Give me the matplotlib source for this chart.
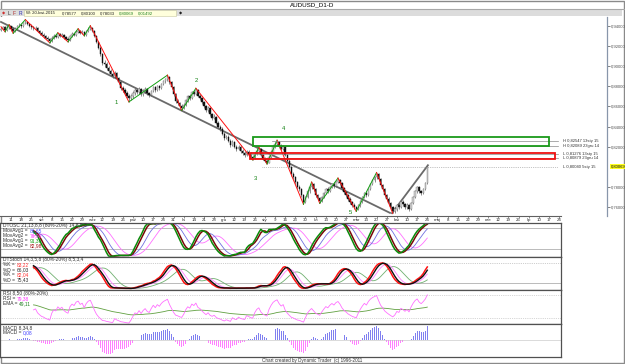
import numpy as np
import pandas as pd
import matplotlib
matplotlib.use("Agg")
import matplotlib.pyplot as plt
from matplotlib.patches import Rectangle

plt.rcParams["font.family"] = ["Liberation Sans", "DejaVu Sans"]

W, H = 625, 364

# dzienne swiece AUDUSD, w pipsach (0,9370 -> 9370), od 4 lip 2014 do 24 kwi 2015
first_open = 9360
close = [
    9370, 9385, 9360, 9390, 9395, 9365, 9345, 9370, 9395, 9410, 9400, 9425, 9440,
    9420, 9400, 9390, 9375, 9380, 9350, 9330, 9310, 9300, 9280, 9265, 9250,
    9280, 9300, 9290, 9315, 9300, 9310, 9285, 9270, 9260,
    9300, 9320, 9310, 9340, 9350, 9330, 9340, 9310, 9345, 9370, 9380,
    9350, 9300, 9240, 9180, 9120, 9030, 9020, 8980, 8950, 8920, 8900, 8930, 8880, 8840, 8780, 8760, 8730, 8700, 8680,
    8700, 8730, 8760, 8740, 8770, 8720, 8750,
    8770, 8730, 8710, 8750, 8790, 8760, 8800, 8780, 8820, 8850, 8870, 8890,
    8840, 8790, 8720, 8650, 8630, 8600, 8580,
    8610, 8660, 8700, 8680, 8740, 8720, 8760,
    8700, 8680, 8640, 8600, 8560, 8580, 8520, 8490, 8500, 8440, 8400, 8380, 8330, 8290, 8300, 8260, 8220, 8250, 8200, 8180, 8200, 8160,
    8140, 8120, 8150, 8130, 8100, 8090, 8130, 8160, 8175,
    8120, 8080, 8060, 8040, 8100, 8150, 8200, 8230, 8250,
    8210, 8180, 8200, 8120, 8060, 8000, 7930, 7900, 7850, 7800, 7780, 7720, 7650,
    7700, 7760, 7800, 7830, 7780, 7720, 7690, 7660,
    7700, 7740, 7780, 7760, 7800, 7830, 7810, 7850, 7870,
    7840, 7790, 7750, 7720, 7680, 7650, 7620, 7600, 7580,
    7620, 7660, 7700, 7740, 7720, 7780, 7830, 7870, 7900, 7930,
    7880, 7820, 7780, 7720, 7680, 7640, 7600, 7560,
    7580, 7620, 7600, 7650, 7630, 7600, 7620, 7580, 7640, 7700, 7760, 7800, 7760, 7740, 7780, 7840, 8000,
]
high = [
    9390, 9400, 9395, 9405, 9410, 9400, 9375, 9385, 9405, 9425, 9420, 9440, 9460,
    9450, 9430, 9415, 9400, 9395, 9390, 9360, 9345, 9325, 9310, 9295, 9280,
    9295, 9320, 9315, 9330, 9325, 9330, 9320, 9295, 9285,
    9310, 9335, 9330, 9355, 9370, 9360, 9355, 9350, 9360, 9385, 9400,
    9390, 9360, 9310, 9250, 9195, 9130, 9060, 9040, 9000, 8975, 8940, 8950, 8945, 8895, 8855, 8800, 8780, 8750, 8720,
    8720, 8750, 8780, 8775, 8790, 8785, 8770,
    8790, 8785, 8745, 8765, 8805, 8800, 8815, 8815, 8835, 8865, 8885, 8910,
    8900, 8850, 8800, 8730, 8670, 8645, 8620,
    8630, 8675, 8715, 8720, 8755, 8760, 8780,
    8770, 8720, 8695, 8655, 8615, 8600, 8590, 8535, 8520, 8510, 8455, 8420, 8395, 8345, 8320, 8315, 8275, 8270, 8260, 8220, 8220, 8215,
    8175, 8160, 8170, 8165, 8145, 8120, 8145, 8175, 8195,
    8185, 8135, 8095, 8080, 8115, 8165, 8215, 8245, 8265,
    8260, 8225, 8220, 8210, 8135, 8075, 8010, 7950, 7915, 7865, 7820, 7795, 7735,
    7715, 7775, 7815, 7850, 7840, 7795, 7735, 7705,
    7715, 7755, 7795, 7800, 7815, 7845, 7850, 7865, 7890,
    7885, 7850, 7805, 7765, 7735, 7700, 7665, 7640, 7615,
    7635, 7675, 7715, 7755, 7760, 7795, 7845, 7885, 7915, 7945,
    7940, 7890, 7835, 7795, 7735, 7700, 7655, 7615,
    7600, 7635, 7640, 7665, 7670, 7645, 7640, 7635, 7655, 7715, 7775, 7815, 7810, 7775, 7795, 7855, 8010,
]
low = [
    9345, 9355, 9340, 9350, 9370, 9350, 9325, 9335, 9360, 9385, 9380, 9390, 9415,
    9405, 9385, 9370, 9355, 9360, 9335, 9310, 9295, 9280, 9265, 9245, 9230,
    9240, 9270, 9275, 9280, 9285, 9290, 9270, 9255, 9240,
    9250, 9290, 9295, 9300, 9330, 9315, 9320, 9300, 9300, 9335, 9355,
    9340, 9285, 9225, 9165, 9100, 9010, 8995, 8960, 8930, 8900, 8880, 8885, 8865, 8820, 8765, 8740, 8710, 8680, 8645,
    8660, 8685, 8715, 8720, 8725, 8700, 8705,
    8735, 8715, 8690, 8700, 8740, 8745, 8750, 8765, 8770, 8810, 8835, 8855,
    8825, 8775, 8700, 8635, 8610, 8580, 8560,
    8570, 8600, 8645, 8665, 8670, 8705, 8710,
    8690, 8660, 8625, 8585, 8545, 8545, 8505, 8470, 8475, 8425, 8385, 8360, 8315, 8270, 8275, 8245, 8200, 8205, 8185, 8160, 8165, 8140,
    8120, 8100, 8105, 8115, 8085, 8070, 8080, 8120, 8145,
    8105, 8065, 8045, 8030, 8035, 8090, 8140, 8185, 8215,
    8195, 8165, 8165, 8105, 8045, 7985, 7915, 7880, 7830, 7785, 7760, 7700, 7630,
    7640, 7690, 7745, 7785, 7765, 7705, 7670, 7640,
    7650, 7690, 7730, 7745, 7750, 7790, 7795, 7800, 7840,
    7825, 7775, 7735, 7700, 7665, 7630, 7605, 7580, 7560,
    7570, 7605, 7645, 7690, 7705, 7710, 7770, 7820, 7855, 7885,
    7865, 7805, 7765, 7705, 7665, 7625, 7580, 7540,
    7545, 7565, 7585, 7590, 7615, 7585, 7585, 7565, 7570, 7630, 7690, 7745, 7745, 7725, 7730, 7770, 7830,
]

# zigzag (numer swiecy, cena w pipsach)
zz_bar = [0, 2, 4, 6, 12, 24, 28, 33, 38, 41, 44, 63, 82, 89, 96, 124, 127, 131, 136,
          149, 153, 157, 166, 175, 185, 193]
zz_pip = [9390, 9340, 9410, 9325, 9460, 9230, 9330, 9240, 9370, 9300, 9400, 8645, 8910,
          8560, 8780, 8070, 8195, 8030, 8265, 7630, 7850, 7640, 7890, 7560, 7945, 7540]

# linie trendu (szare)
trend_bar = [0, 191.6]
trend_pip = [9437, 7545]
rise_bar = [192.6, 210.3]
rise_pip = [7542, 8017]

# fale
wave_txt = ["1", "2", "3", "4", "5"]
wave_bar = [56.7, 96.0, 125.1, 139.4, 172.0]
wave_pip = [8634, 8852, 7890, 8386, 7544]

# strefy
green_zone = (124.1, 269.9, 8208, 8297)
red_zone = (122.7, 272.9, 8076, 8141)
lvl_pip = [8254.7, 8208.9, 8127.6, 8087.9, 8004.0]
lvl_start = [133.5, 124.1, 122.7, 122.7, 128.6]
lvl_txt = ["H 0,82547 13sty 15", "H 0,82089 23gru 14", "L 0,81276 13sty 15",
           "L 0,80879 23gru 14", "L 0,80040 5sty 15"]

price_ticks = [0.94, 0.92, 0.90, 0.88, 0.86, 0.84, 0.82, 0.78, 0.76]
last_close = 0.80069

date_lbl = ["11", "18", "25", "sie", "8", "15", "22", "29", "wrz", "12", "19", "26", "paź",
            "10", "17", "24", "31", "lis", "14", "21", "28", "gru", "12", "19", "26", "sty",
            "9", "16", "23", "30", "lut", "13", "20", "27", "mar", "13", "20", "27", "kwi",
            "10", "17", "24", "maj", "8", "15", "22", "29", "cze", "12", "19", "26", "lip",
            "10", "17", "24"]

n = len(close)
assert len(high) == n and len(low) == n
j = np.arange(n)
c = pd.Series(close, dtype=float)
hi = pd.Series(high, dtype=float)
lo = pd.Series(low, dtype=float)
opn = c.shift(1).fillna(first_open)


def rsi(s, p):
    d = s.diff().fillna(0)
    up = d.clip(lower=0).ewm(alpha=1 / p, adjust=True).mean()
    dn = (-d.clip(upper=0)).ewm(alpha=1 / p, adjust=True).mean()
    return (100 - 100 / (1 + up / dn.replace(0, np.nan))).fillna(50)


def stoch(s, h, l, p):
    hh = h.rolling(p, min_periods=1).max()
    ll = l.rolling(p, min_periods=1).min()
    return (100 * (s - ll) / (hh - ll).replace(0, np.nan)).fillna(50)


def sma(s, p):
    return s.rolling(p, min_periods=1).mean()


# DTOSC
r21 = rsi(c, 21)
osc_g = sma(stoch(r21, r21, r21, 13), 8)
osc_r = sma(osc_g, 3)
osc_b = sma(osc_g, 8)
osc_p = sma(osc_b, 8)
# DTStoch
st_r = sma(stoch(c, hi, lo, 21), 8)
st_k = sma(st_r, 3)
st_p = sma(st_r, 6)
st_g = sma(st_p, 8)
# RSI
rsi8 = rsi(c, 8)
rsi_ema = rsi8.ewm(span=50, adjust=True).mean()
# MACD
macd = c.ewm(span=8, adjust=True).mean() - c.ewm(span=34, adjust=True).mean()
hist = macd - macd.ewm(span=8, adjust=True).mean()

start = 16
m = j >= start

fig = plt.figure(figsize=(W / 100, H / 100), dpi=100)
bg = fig.add_axes([0, 0, 1, 1])
bg.set_xlim(0, W)
bg.set_ylim(H, 0)
bg.axis("off")
bg.set_zorder(-1)


def px_axes(x0, y0, x1, y1):
    return fig.add_axes([x0 / W, 1 - y1 / H, (x1 - x0) / W, (y1 - y0) / H])


def ptext(ax, x, y, s, **kw):
    kw.setdefault("fontsize", 3.5)
    kw.setdefault("va", "center")
    return ax.text(x, y, s, transform=bg.transData, clip_on=False, **kw)


def label_value(ax, x, y, pre, val, col):
    t = ptext(ax, x, y, pre, color="#303030")
    ax.annotate(val, xy=(1, 0.5), xycoords=t, xytext=(1.2, 0), textcoords="offset points",
                fontsize=3.5, va="center", color=col)


XL = (-1 / 2.03, 560 / 2.03)

# naglowek
bg.add_patch(Rectangle((0.5, 0.5), W - 1.5, H - 1.5, fill=False, ec="#8a8a8a", lw=1.0))
bg.plot([0, W], [9, 9], color="#a8a8a8", lw=0.8)
bg.text(312, 4.7, "AUDUSD_D1-D", ha="center", va="center", fontsize=4.5)
bg.add_patch(Rectangle((0, 10), 622, 6.3, fc="#dcdcdc", ec="none"))
bg.add_patch(Rectangle((24, 10.2), 152, 6, fc="#ffffdc", ec="#c8c8a0", lw=0.4))
bg.text(2, 13.3, "◆", color="#d03030", fontsize=3, va="center")
bg.text(7.5, 13.3, "L", color="#303030", fontsize=3.6, va="center")
bg.text(13, 13.3, "F", color="#b03030", fontsize=3.6, va="center")
bg.text(18.5, 13.3, "R", color="#3030b0", fontsize=3.6, va="center")
info = [("W: 20-kwi-2015", 26, "#202020"), ("0,78577", 62, "#202020"), ("0,80100", 81, "#202020"),
        ("0,78033", 100, "#202020"), ("0,80069", 119, "#208020"), ("0,01492", 138, "#208020")]
for s, x, col in info:
    bg.text(x, 13.3, s, color=col, fontsize=3.1, va="center")
bg.text(179, 13.3, "◆", color="#202020", fontsize=3, va="center")

# wykres glowny
ax = px_axes(0, 17, 607, 216)
ax.set_xlim(XL[0], 606 / 2.03)
ax.set_ylim(0.75141, 0.94862)
for s in ["top", "left", "bottom"]:
    ax.spines[s].set_visible(False)
ax.spines["right"].set_color("#8896aa")
ax.spines["right"].set_linewidth(0.9)
ax.set_xticks([])
ax.yaxis.tick_right()
ax.set_yticks(price_ticks)
ax.set_yticklabels([f"{t:.5f}".replace(".", ",") for t in price_ticks])
ax.tick_params(axis="y", length=2, width=0.5, pad=1, labelsize=3.0, colors="#505050")

cp, op_, hp, lp = c / 1e4, opn / 1e4, hi / 1e4, lo / 1e4
ax.vlines(j, lp, hp, color="#606060", lw=0.5, zorder=2)
down = cp < op_
body_lo = np.minimum(cp, op_)
body_h = np.maximum(np.abs(cp - op_), 0.0004)
ax.bar(j[down], body_h[down], bottom=body_lo[down], width=0.7, color="#101010",
       edgecolor="#101010", lw=0.3, zorder=3)
ax.bar(j[~down], body_h[~down], bottom=body_lo[~down], width=0.7, color="#d0d0d0",
       edgecolor="#808080", lw=0.3, zorder=3)

zb = np.array(zz_bar)
zp = np.array(zz_pip) / 1e4
for k in range(len(zb) - 1):
    col = "#ff1010" if zp[k + 1] < zp[k] else "#10a010"
    ax.plot(zb[k:k + 2], zp[k:k + 2], color=col, lw=0.7, zorder=4)
ax.plot(trend_bar, np.array(trend_pip) / 1e4, color="#6a6a6a", lw=1.3, zorder=1)
ax.plot(rise_bar, np.array(rise_pip) / 1e4, color="#6a6a6a", lw=1.3, zorder=1)
for t, b, p in zip(wave_txt, wave_bar, wave_pip):
    ax.text(b, p / 1e4, t, color="#108010", fontsize=4.2, ha="center", va="center")

g0, g1, gl, gh = green_zone
ax.add_patch(Rectangle((g0, gl / 1e4), g1 - g0, (gh - gl) / 1e4, fill=False, ec="#1a9a1a", lw=1.3, zorder=5))
r0, r1, rl, rh = red_zone
ax.add_patch(Rectangle((r0, rl / 1e4), r1 - r0, (rh - rl) / 1e4, fill=False, ec="#ee1010", lw=1.3, zorder=5))
for k, (p, s0, s) in enumerate(zip(lvl_pip, lvl_start, lvl_txt)):
    ls = ":" if k == 4 else "-"
    ax.plot([s0, 274.5], [p / 1e4, p / 1e4], color="#8a8a8a", lw=0.5, ls=ls, zorder=4)
    ax.text(277, p / 1e4, s, fontsize=3.0, va="center", color="#303030")
ax.text(1.006, last_close, "0,80069", transform=ax.get_yaxis_transform(), fontsize=3.0,
        va="center", ha="left", clip_on=False,
        bbox=dict(boxstyle="square,pad=0.15", fc="#ffff20", ec="none"))

# os dat
axd = px_axes(0, 216, 561, 223)
axd.set_xlim(*XL)
axd.set_ylim(1, 0)
axd.axis("off")
axd.plot([XL[0], XL[1]], [0, 0], color="#606060", lw=0.8, clip_on=False)
tick_j = [5 + 5 * k for k in range(len(date_lbl))]
axd.vlines(tick_j, 0, 0.3, color="#606060", lw=0.5)
for tj, s in zip(tick_j, date_lbl):
    axd.text(tj, 0.6, s, fontsize=3.2, ha="center", va="center", color="#303030")


def panel(y0, y1, ylim):
    a = px_axes(0, y0, 561, y1)
    a.set_xlim(*XL)
    a.set_ylim(*ylim)
    a.set_xticks([])
    a.set_yticks([])
    for s in a.spines.values():
        s.set_color("#505050")
        s.set_linewidth(0.9)
    return a


a1 = panel(223, 257, (-2, 95))
a1.axhline(80, color="#a0a0a0", lw=0.5)
a1.axhline(20, color="#a0a0a0", lw=0.5)
a1.plot(j[m], osc_p[m], color="#ff70ff", lw=0.6)
a1.plot(j[m], osc_b[m], color="#7070e0", lw=0.6)
a1.plot(j[m], osc_r[m], color="#7a0a0a", lw=1.1)
a1.plot(j[m], osc_g[m], color="#0a8a0a", lw=1.1)
ptext(a1, 3, 225.8, "DTOSC 21,13,8,8 (80%-20%) 14,8,5,3", color="#303030")
for k, (s, v, col) in enumerate([("MovAvg1 =", "86,65", "#5050ff"), ("MovAvg2 =", "76,99", "#ff30ff"),
                                  ("MovAvg1 =", "91,37", "#10a010"), ("MovAvg2 =", "82,98", "#a01010")]):
    label_value(a1, 3, 230.8 + 5 * k, s, v, col)

a2 = panel(257, 290, (-1, 98))
a2.axhline(80, color="#a0a0a0", lw=0.5, ls=":")
a2.axhline(20, color="#a0a0a0", lw=0.5)
a2.plot(j[m], st_g[m], color="#70b070", lw=0.6)
a2.plot(j[m], st_p[m], color="#ff80ff", lw=0.6)
a2.plot(j[m], st_r[m], color="#ff1010", lw=1.1)
a2.plot(j[m], st_k[m], color="#101010", lw=1.0)
ptext(a2, 3, 260, "DTStoch 14,3,5,8 (80%-20%) 8,5,3,4", color="#303030")
for k, (s, v, col) in enumerate([("%K =", "83,22", "#ff3030"), ("%D =", "66,03", "#303030"),
                                  ("%K =", "82,04", "#ff3030"), ("%D =", "75,43", "#303030")]):
    label_value(a2, 3, 265 + 5 * k, s, v, col)

a3 = panel(290, 324, (5, 93))
a3.axhline(80, color="#b0b0b0", lw=0.5, ls=":")
a3.axhline(20, color="#b0b0b0", lw=0.5, ls=":")
a3.plot(j[m], rsi_ema[m], color="#60a040", lw=0.6)
a3.plot(j[m], rsi8[m], color="#ff70ff", lw=0.6)
ptext(a3, 3, 293.3, "RSI 8,50 (80%-20%)", color="#303030")
label_value(a3, 3, 298.3, "RSI =", "79,38", "#ff30ff")
label_value(a3, 3, 303.3, "EMA =", "49,11", "#208020")

a4 = panel(324, 357, (-1, 1))
hmax = np.abs(hist).max() * 1.15
a4.set_ylim(-hmax * 1.05, hmax * 0.95)
a4.axhline(0, color="#c0c0c0", lw=0.4)
hcol = np.where(hist >= 0, "#8080f0", "#ff80ff")
a4.bar(j, hist, width=0.45, color=hcol, lw=0)
ptext(a4, 3, 327.3, "MACD 8,34,8", color="#303030")
label_value(a4, 3, 332.3, "MACD =", "0,08", "#4040ff")

bg.text(312, 360.6, "Chart created by Dynamic Trader  (c) 1996-2011", ha="center", va="center",
        fontsize=3.3, color="#303030")

fig.savefig("out.png", dpi=100)
